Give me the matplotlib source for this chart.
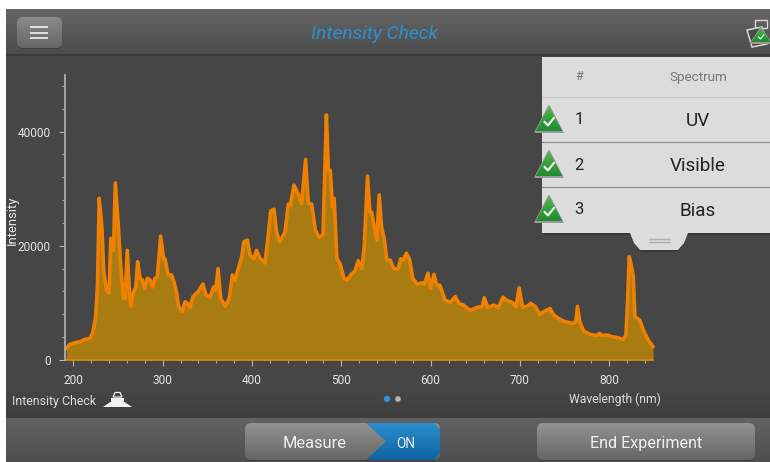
import numpy as np
import matplotlib
matplotlib.use("Agg")
import matplotlib.pyplot as plt
from matplotlib.patches import Rectangle, FancyBboxPatch, Polygon, Circle
from matplotlib.ticker import MultipleLocator

plt.rcParams['font.family'] = ['Roboto', 'DejaVu Sans']

wavelength = [192,196,202,207.5,213,219,222,225,227,229,232,234,237,240,242,245,247,250,252.6,256,258,260.4,262.7,264.5,267,270,272,274.6,277.6,280,283,286,289,291.4,294,297.8,300.7,303,306,310,312.7,315.7,318,322,325,327.6,330.6,334,340,345,348.5,353,357,359.5,362,365,370,374.6,378,381,384.7,388.4,391,394.8,397.8,402,405,409,414.6,418,421,424.6,427.6,431,437,440.7,443,447,450,455.6,460,463,466.8,471,475,479.5,483.3,485.5,487.7,490,492,495,498.5,503,506.6,511,515,519,523,525.6,529.3,532,534,536.8,539.8,542.4,545,548,551,554.6,559,563.6,566.5,569.5,572.9,576.6,580,585,590.7,593,597,600,603.7,606.7,610.4,616,622.3,627.5,631.6,637,644,654,657.6,660,664,670.6,676,681,685.5,691,695.5,699,703,707.8,712,717,722,728,733.8,737.5,743,748.7,759,762.5,764.3,767,771,778.4,785.9,788.8,792,797.8,802.6,808,815.6,818.6,820.5,822.3,825,826.8,828.6,831,834,838,843.5,849]
intensity = [1980,2740,3030,3200,3600,3800,4950,7580,12800,28300,23300,15700,12200,11700,21300,19200,31000,24500,17500,10800,10800,19200,12200,9400,11700,12800,17200,14300,14000,12500,14300,14000,12800,14300,14600,21700,18100,17500,14900,14900,13700,11700,9300,8450,10200,9900,9200,11100,12000,13300,11400,11000,12800,12200,16000,10800,9400,10800,14900,14000,16000,18000,20700,21000,18400,17700,19200,17800,17000,21600,26100,26400,22400,20700,22400,27300,27100,30600,29700,27400,35100,27400,27300,22700,21500,21900,42900,33200,33200,26800,28300,17800,16900,14300,14000,15000,15500,17400,16000,19800,32200,25900,25900,23300,21000,28900,23300,21300,17500,17500,15900,16000,17700,17500,18700,17500,14300,13300,13500,13300,15200,12500,15000,13100,13100,10500,10100,11100,9900,9600,8700,9300,9300,10900,9200,9600,9200,11000,10400,10100,9300,12650,9200,9400,9900,9400,8000,8600,9000,7900,7300,6800,6400,6700,9400,6700,5100,4500,4250,4660,4300,4370,4100,3960,3600,4370,10500,18100,16300,14600,7600,7300,7000,5250,3500,2330]
x_ticks = [200,300,400,500,600,700,800]
y_ticks = [0,20000,40000]
spectra = ['UV','Visible','Bias']

W,H = 770,462
fig = plt.figure(figsize=(W/100,H/100),dpi=100,facecolor='white')

def rect_px(l,t,r,b):
    return [l/W,1-b/H,(r-l)/W,(b-t)/H]

def overlay(z):
    a = fig.add_axes([0,0,1,1],zorder=z)
    a.set_xlim(0,W); a.set_ylim(H,0); a.axis('off'); a.patch.set_alpha(0)
    return a

def grad(a,l,t,r,b,c1,c2,clip=None,z=1):
    c1=np.array(matplotlib.colors.to_rgb(c1)); c2=np.array(matplotlib.colors.to_rgb(c2))
    v=np.linspace(0,1,64)[:,None,None]
    im=a.imshow(c1+(c2-c1)*v,extent=(l,r,b,t),aspect='auto',zorder=z,interpolation='bilinear')
    if clip is not None: im.set_clip_path(clip)
    a.set_xlim(0,W); a.set_ylim(H,0)
    return im

def button(a,l,t,r,b,c1,c2,rad=6,z=2):
    sh=FancyBboxPatch((l+rad,t+rad+1),r-l-2*rad,b-t-2*rad,boxstyle=f"round,pad={rad},rounding_size={rad}",fc='#383838',ec='none',zorder=z,alpha=.6)
    a.add_patch(sh)
    p=FancyBboxPatch((l+rad,t+rad),r-l-2*rad,b-t-2*rad,boxstyle=f"round,pad={rad},rounding_size={rad}",fc='none',ec='none',zorder=z)
    a.add_patch(p)
    grad(a,l,t,r,b,c1,c2,clip=p,z=z+.1)

bg = overlay(0)
bg.add_patch(Rectangle((6,9),W-6,H-9,fc='#464646',ec='none'))
grad(bg,6,9,W,54,'#666666','#4c4c4c')
bg.add_patch(Rectangle((6,54),W-6,2,fc='#3a3a3a',ec='none',zorder=2))
grad(bg,6,390,W,418,'#464646','#3e3e3e')
grad(bg,6,418,W,H,'#626262','#4e4e4e')

# chart
ax = fig.add_axes(rect_px(65,75,654,360),zorder=1)
ax.patch.set_alpha(0)
ax.set_xlim(190.7,850); ax.set_ylim(0,49900)
ax.fill_between(wavelength,intensity,0,color='#a87c10',lw=0)
ax.plot(wavelength,intensity,color='#f08000',lw=2.6,solid_joinstyle='round',solid_capstyle='round',clip_on=False)
ax.plot([wavelength[0],wavelength[-1]],[0,0],color='#d88a10',lw=1.2,clip_on=False)
for s in ['top','right']: ax.spines[s].set_visible(False)
ax.spines['left'].set_color('#ababab'); ax.spines['left'].set_linewidth(1.3)
ax.spines['bottom'].set_visible(False)
ax.set_xticks(x_ticks); ax.set_yticks(y_ticks)
ax.set_xticklabels([str(v) for v in x_ticks]); ax.set_yticklabels([str(v) for v in y_ticks])
ax.xaxis.set_minor_locator(MultipleLocator(20)); ax.yaxis.set_minor_locator(MultipleLocator(4000))
ax.tick_params(axis='both',which='major',colors='#b5b5b5',labelcolor='#e4e4e4',labelsize=8.6,length=4,width=.8)
ax.tick_params(axis='both',which='minor',colors='#a5a5a5',length=2.2,width=.8)
ax.tick_params(axis='x',which='major',pad=6)
ax.tick_params(axis='y',which='major',pad=6)

# foreground
fg = overlay(2)
txt = dict(family=['Roboto','DejaVu Sans'],va='center')
fg.text(12,220,'Intensity',color='#e8e8e8',fontsize=9.4,rotation=90,ha='center',**txt)
fg.text(615,399,'Wavelength (nm)',color='#dddddd',fontsize=8.7,ha='center',**txt)
fg.text(54,401,'Intensity Check',color='#dddddd',fontsize=8.9,ha='center',**txt)
fg.text(374.5,34,'Intensity Check',color='#2b8fd2',fontsize=13.9,style='italic',ha='center',**txt)

# lamp icon
fg.add_patch(Polygon([(103,407),(132,407),(123,401),(112,401)],fc='#f2f2f2',ec='none'))
fg.add_patch(Rectangle((111,397.5),13,3,fc='#f2f2f2',ec='none'))
fg.add_patch(Polygon([(113,397),(115,392.5),(120,392.5),(122,397)],fc='#3f3f3f',ec='#f2f2f2',lw=.9))

# page dots
fg.add_patch(Circle((387,399),3.2,fc='#2e94e0',ec='none'))
fg.add_patch(Circle((398,399),2.8,fc='#b4b4b4',ec='none'))

# menu button
button(fg,17,17,62,48,'#8a8a8a','#666666')
for y in (27,32.5,38):
    fg.plot([30,48],[y,y],color='#ececec',lw=1.3,zorder=5,solid_capstyle='butt')

# check triangle
def tri(a,cx,top,bot,half,z=6):
    a.add_patch(Polygon([(cx,top-.5),(cx+half+.5,bot+.8),(cx-half-.5,bot+.8)],closed=True,fc='#9a9a9a',ec='#9a9a9a',lw=1,joinstyle='round',zorder=z))
    p=Polygon([(cx,top),(cx+half,bot),(cx-half,bot)],closed=True,fc='none',ec='none',zorder=z)
    a.add_patch(p)
    grad(a,cx-half,top,cx+half,bot,'#55bb4e','#1f8a2f',clip=p,z=z+.1)
    s=(bot-top)/25
    a.plot([cx-4.5*s,cx-1*s,cx+5*s],[top+15.5*s,top+19*s,top+11.5*s],color='white',lw=1.4*s,zorder=z+.2,solid_capstyle='round')

# cuvette icon
fg.add_patch(Rectangle((755,19.5),12,8,fc='none',ec='#d8d8d8',lw=1))
fg.add_patch(Polygon([(747,30),(762,27),(767,44),(752,47)],fc='#4a4a4a',ec='#d8d8d8',lw=1.1,zorder=3))
tri(fg,761,28,42.5,10,z=4)

# panel
fg.add_patch(Rectangle((544,59),W-544,176,fc='#2f2f2f',ec='none',zorder=3,alpha=.6))
fg.add_patch(FancyBboxPatch((636,225),46,27,boxstyle="round,pad=0,rounding_size=9",fc='#2f2f2f',ec='none',zorder=3,alpha=.6))
fg.add_patch(Polygon([(630,233),(688,233),(684,243),(678,250),(640,250),(634,243)],fc='#dcdcdc',ec='none',zorder=4,joinstyle='round',lw=0))
fg.add_patch(Rectangle((542,57),W-542,176,fc='#dcdcdc',ec='none',zorder=4))
fg.plot([649,670],[238.5,238.5],color='#b0b0b0',lw=1,zorder=5)
fg.plot([649,670],[242,242],color='#b0b0b0',lw=1,zorder=5)
fg.plot([542,W],[96.5,96.5],color='#c8c8c8',lw=.8,zorder=5)
fg.plot([542,W],[142,142],color='#8e8e8e',lw=.9,zorder=5)
fg.plot([542,W],[187,187],color='#8e8e8e',lw=.9,zorder=5)
fg.text(579,77,'#',color='#777777',fontsize=9,ha='center',zorder=6,**txt)
fg.text(698,77,'Spectrum',color='#777777',fontsize=9.7,ha='center',zorder=6,**txt)
rows=[120,165,210]
for i,(y,name) in enumerate(zip(rows,spectra)):
    fg.text(579,y,str(i+1),color='#222222',fontsize=12,ha='center',zorder=6,**txt)
    fg.text(698,y+1,name,color='#222222',fontsize=13.6,ha='center',zorder=6,**txt)
    tri(fg,549,y-14,y+11.5,13.5,z=7)

# bottom buttons
button(fg,245,423,440,460,'#929292','#666666')
blue=Polygon([(366,423),(434,423),(440,429),(440,454),(434,460),(366,460),(386,441.5)],closed=True,fc='none',ec='none',zorder=3)
fg.add_patch(blue)
grad(fg,366,423,440,460,'#2b8fd0','#0f62a0',clip=blue,z=3.1)
fg.text(315,443.5,'Measure',color='#f0f0f0',fontsize=11.8,ha='center',zorder=5,**txt)
fg.text(406,443.5,'ON',color='#f0f0f0',fontsize=9.8,ha='center',zorder=5,**txt)
button(fg,537,423,755,460,'#929292','#666666')
fg.text(646,443.5,'End Experiment',color='#f0f0f0',fontsize=11.6,ha='center',zorder=5,**txt)

fig.savefig('out.png',dpi=100,facecolor='white')
